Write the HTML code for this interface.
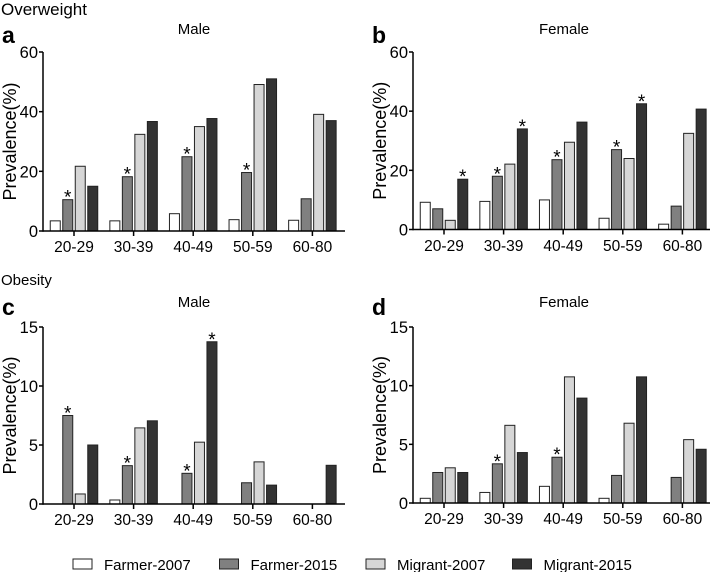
<!DOCTYPE html>
<html><head><meta charset="utf-8"><style>
body{margin:0;background:#fff}
svg{display:block;font-family:"Liberation Sans",Arial,sans-serif}
</style></head><body>
<svg id="fig" width="710" height="572" viewBox="0 0 710 572" xmlns="http://www.w3.org/2000/svg">
<text x="1" y="15" font-size="17">Overweight</text>
<text x="1" y="285" font-size="15">Obesity</text>
<g id="legend"></g>
</svg>
<script>
const categories = ["20-29","30-39","40-49","50-59","60-80"];
const seriesNames = ["Farmer-2007","Farmer-2015","Migrant-2007","Migrant-2015"];
const colors = ["#ffffff","#808080","#d6d6d6","#333333"];
// panel a: overweight male
const aFarmer2007 = [3.4,3.4,5.8,3.8,3.6];
const aFarmer2015 = [10.5,18.2,24.9,19.6,10.8];
const aMigrant2007 = [21.7,32.4,35.0,49.1,39.1];
const aMigrant2015 = [15.0,36.7,37.7,51.0,37.0];
const aStars = [[1,0],[1,1],[1,2],[1,3]];
// panel b: overweight female
const bFarmer2007 = [9.2,9.5,10.0,3.8,1.8];
const bFarmer2015 = [7.0,18.0,23.6,27.0,7.9];
const bMigrant2007 = [3.1,22.1,29.5,24.0,32.5];
const bMigrant2015 = [17.0,34.0,36.3,42.5,40.7];
const bStars = [[3,0],[1,1],[3,1],[1,2],[1,3],[3,3]];
// panel c: obesity male
const cFarmer2007 = [0,0.34,0,0,0];
const cFarmer2015 = [7.5,3.25,2.6,1.8,0];
const cMigrant2007 = [0.85,6.45,5.24,3.57,0];
const cMigrant2015 = [5.0,7.05,13.75,1.6,3.28];
const cStars = [[1,0],[1,1],[1,2],[3,2]];
// panel d: obesity female
const dFarmer2007 = [0.4,0.9,1.42,0.4,0];
const dFarmer2015 = [2.6,3.34,3.9,2.35,2.18];
const dMigrant2007 = [3.0,6.62,10.75,6.8,5.4];
const dMigrant2015 = [2.6,4.3,8.94,10.75,4.58];
const dStars = [[1,1],[1,2]];
const ticksOverweight = [0,20,40,60];
const ticksObesity = [0,5,10,15];

const NS="http://www.w3.org/2000/svg";
const svg=document.getElementById('fig');
function mk(tag,attrs,parent){const e=document.createElementNS(NS,tag);for(const k in attrs)e.setAttribute(k,attrs[k]);(parent||svg).appendChild(e);return e;}

function panel(id,letter,title,ox,top,zero,ymax,ticks,series,stars,labelY,letterY,titleY){
  const g=mk('g',{});
  
  
  const y=v=>zero-(v/ymax)*(zero-top);
  const cx=i=>ox+31+i*59.6;
  const L=mk('text',{x:ox-41,y:letterY,'font-size':23,'font-weight':'bold'},g);L.textContent=letter;
  
  
  const T=mk('text',{x:ox+151,y:titleY,'font-size':15,'text-anchor':'middle'},g);T.textContent=title;
  
  
  const yl=mk('text',{x:0,y:0,'font-size':18,'text-anchor':'middle',transform:`translate(${ox-27},${(top+zero)/2}) rotate(-90)`},g);yl.textContent='Prevalence(%)';
  
  
  ticks.forEach(t=>{
    mk('line',{x1:ox-4,x2:ox,y1:y(t),y2:y(t),stroke:'#000','stroke-width':1.5},g);
    const tl=mk('text',{x:ox-5,y:y(t)+6,'font-size':16.5,'text-anchor':'end'},g);tl.textContent=t;
    
    
  });
  series.forEach((vals,s)=>{
    vals.forEach((v,i)=>{
      if(v<=0)return;
      const x=cx(i)+(s-1.5)*12.5-5;
      const r=mk('rect',{x:x,y:y(v),width:10,height:zero-y(v),fill:colors[s],stroke:'#222','stroke-width':1},g);
      
      
    });
  });
  stars.forEach(([s,i])=>{
    const st=mk('text',{x:cx(i)+(s-1.5)*12.5,y:y(series[s][i])+4,'font-size':19,'text-anchor':'middle'},g);st.textContent='*';
    
    
  });
  categories.forEach((c,i)=>{
    mk('line',{x1:cx(i),x2:cx(i),y1:zero,y2:zero+5,stroke:'#000','stroke-width':1.5},g);
    const xl=mk('text',{x:cx(i),y:labelY,'font-size':15.5,'text-anchor':'middle'},g);xl.textContent=c;
    
    
  });
  const ya=mk('line',{x1:ox,x2:ox,y1:top,y2:zero+0.75,stroke:'#000','stroke-width':1.5},g);
  
  
  const xa=mk('line',{x1:ox,x2:ox+302,y1:zero,y2:zero,stroke:'#000','stroke-width':1.5},g);
  
  
}
panel('a','a','Male',43,52,231,60,ticksOverweight,[aFarmer2007,aFarmer2015,aMigrant2007,aMigrant2015],aStars,252,43,34);
panel('b','b','Female',413,52,229.5,60,ticksOverweight,[bFarmer2007,bFarmer2015,bMigrant2007,bMigrant2015],bStars,251,43,34);
panel('c','c','Male',43,327,504,15,ticksObesity,[cFarmer2007,cFarmer2015,cMigrant2007,cMigrant2015],cStars,525,315,307);
panel('d','d','Female',413,327,503,15,ticksObesity,[dFarmer2007,dFarmer2015,dMigrant2007,dMigrant2015],dStars,524,315,307);

const lg=document.getElementById('legend');
seriesNames.forEach((n,s)=>{
  const x=73+s*146.5;
  const r=mk('rect',{x:x,y:559,width:19,height:10,fill:colors[s],stroke:'#222','stroke-width':1},lg);
  
  
  const t=mk('text',{x:x+31,y:570,'font-size':15},lg);t.textContent=n;
  
  
});
</script>
</body></html>
